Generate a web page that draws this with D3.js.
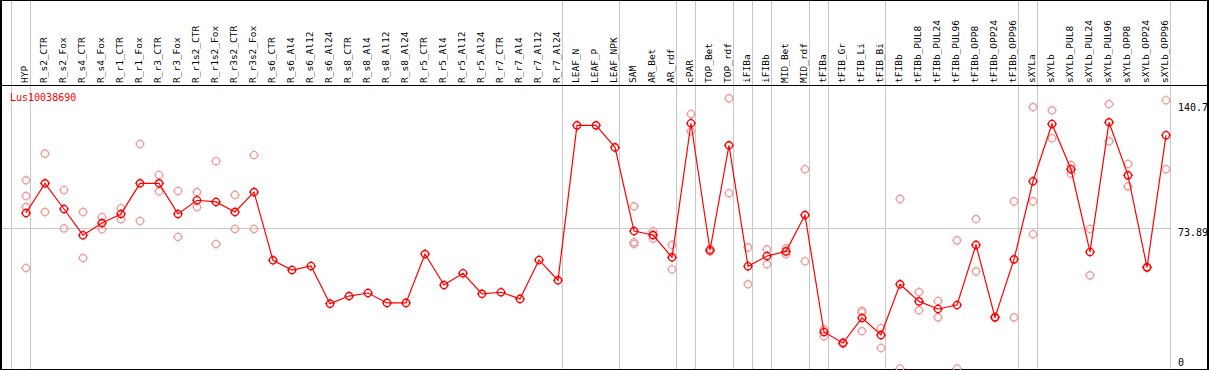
<!DOCTYPE html>
<html>
<head>
<meta charset="utf-8">
<script src="https://cdn.jsdelivr.net/npm/d3@7"></script>
<style>
  body { margin: 0; background: #fff; }
  svg { display: block; }
  text { font-family: "DejaVu Sans Mono", monospace; }
</style>
</head>
<body>
<svg id="chart"></svg>
<script>

var width = 1209,
    height = 370,
    headerY = 85.5,
    plotRight = 1170;

/** sample names, left to right **/
var samples = ["HYP", "R_s2_CTR", "R_s2_Fox", "R_s4_CTR", "R_s4_Fox", "R_r1_CTR", "R_r1_Fox",
    "R_r3_CTR", "R_r3_Fox", "R_r1s2_CTR", "R_r1s2_Fox", "R_r3s2_CTR", "R_r3s2_Fox",
    "R_s6_CTR", "R_s6_Al4", "R_s6_Al12", "R_s6_Al24", "R_s8_CTR", "R_s8_Al4", "R_s8_Al12",
    "R_s8_Al24", "R_r5_CTR", "R_r5_Al4", "R_r5_Al12", "R_r5_Al24", "R_r7_CTR", "R_r7_Al4",
    "R_r7_Al12", "R_r7_Al24", "LEAF_N", "LEAF_P", "LEAF_NPK", "SAM", "AR_Bet", "AR_rdf",
    "cPAR", "TOP_Bet", "TOP_rdf", "iFIBa", "iFIBb", "MID_Bet", "MID_rdf", "tFIBa",
    "tFIB_Gr", "tFIB_Li", "tFIB_Bi", "tFIBb", "tFIBb_PUL8", "tFIBb_PUL24", "tFIBb_PUL96",
    "tFIBb_OPP8", "tFIBb_OPP24", "tFIBb_OPP96", "sXYLa", "sXYLb", "sXYLb_PUL8",
    "sXYLb_PUL24", "sXYLb_PUL96", "sXYLb_OPP8", "sXYLb_OPP24", "sXYLb_OPP96"];

/** mean expression per sample **/
var means = [81.8, 97.4, 83.9, 70.1, 76.5, 81.3, 97.4, 97.4, 81.3, 88.5, 87.6, 82.3, 92.8,
    56.9, 51.8, 53.9, 34.1, 38.1, 39.7, 34.5, 34.5, 60.2, 43.9, 50.1, 39.3, 40.1, 36.6,
    57.1, 46.4, 127.9, 127.9, 116.3, 72.3, 70.2, 58.5, 129.0, 62.2, 117.4, 53.8, 59.2,
    61.6, 80.7, 19.2, 13.4, 26.6, 17.6, 44.3, 35.3, 31.3, 33.4, 65.0, 26.9, 57.4, 98.5,
    128.6, 104.8, 61.3, 129.5, 101.6, 53.2, 122.7];

/** individual replicates per sample (empty = single sample) **/
var replicates = [
    [99.0, 90.7, 84.9, 52.9], [113.0, 82.3], [93.9, 73.7], [82.3, 58.1], [79.7, 73.2],
    [84.3, 78.5], [118.1, 77.6], [101.8, 93.2], [93.4, 69.2], [92.8, 84.8], [109.0, 65.5],
    [91.3, 73.4], [112.3, 73.4],
    [], [], [], [], [], [], [], [], [], [], [], [], [], [], [], [],
    [], [], [],
    [85.3, 66.4, 65.5], [72.2, 70.2, 68.3], [65.0, 52.2], [133.9, 124.8], [62.9, 61.5],
    [142.1, 92.2], [63.7, 44.3], [62.7, 54.8], [63.2, 60.1], [104.8, 56.4], [20.6, 16.9],
    [13.0, 13.8], [30.4, 29.6, 19.7], [21.3, 10.8], [89.2, 0], [40.2, 30.6], [35.5, 26.9],
    [67.4, 0], [78.6, 51.1], [27.1, 26.8], [87.9, 26.9], [137.5, 87.9, 70.6],
    [135.8, 121.1], [107.0, 102.5], [73.4, 49.0], [139.1, 119.5], [107.6, 95.8],
    [53.0, 53.4], [141.1, 104.8]
];

/** group separators sit just right of these sample indices (-1 = before first) **/
var separators = [-1, 0, 28, 31, 34, 35, 37, 38, 39, 41, 42, 45, 52, 53, 60];

var yTicks = [0, 73.89, 140.7];
var geneName = "Lus10038690";


var x = d3.scalePoint()
    .domain(d3.range(samples.length))
    .range([26, 1166]);

var step = x.step();

var y = d3.scaleLinear()
    .domain([0, 140.7])
    .range([368.5, 101]);

var svg = d3.select("#chart")
    .attr("width", width)
    .attr("height", height);

svg.append("rect")
    .attr("width", width)
    .attr("height", height)
    .attr("fill", "#fff");

// vertical group lines
svg.selectAll(".sep")
    .data(separators)
    .enter().append("line")
    .attr("class", "sep")
    .attr("x1", function(d){ return Math.round(d < 0 ? x(0) - step : x(d)) + 4.5; })
    .attr("x2", function(d){ return Math.round(d < 0 ? x(0) - step : x(d)) + 4.5; })
    .attr("y1", 0)
    .attr("y2", height)
    .attr("stroke", "#c8c8c8")
    .attr("stroke-width", 1);

// mid grid line
svg.append("line")
    .attr("x1", 0)
    .attr("x2", plotRight)
    .attr("y1", Math.round(y(73.89)) + 0.5)
    .attr("y2", Math.round(y(73.89)) + 0.5)
    .attr("stroke", "#c8c8c8");

// frame
svg.append("line")
    .attr("x1", 0).attr("x2", width)
    .attr("y1", 0.5).attr("y2", 0.5)
    .attr("stroke", "#000");
svg.append("line")
    .attr("x1", 0).attr("x2", width)
    .attr("y1", headerY).attr("y2", headerY)
    .attr("stroke", "#000");
svg.append("line")
    .attr("x1", 0).attr("x2", width)
    .attr("y1", 369.5).attr("y2", 369.5)
    .attr("stroke", "#000");
svg.append("line")
    .attr("x1", 1).attr("x2", 1)
    .attr("y1", 0).attr("y2", height)
    .attr("stroke", "#000").attr("stroke-width", 2);
svg.append("line")
    .attr("x1", 1208).attr("x2", 1208)
    .attr("y1", 0).attr("y2", height)
    .attr("stroke", "#000").attr("stroke-width", 2);

// sample labels
svg.selectAll(".lbl")
    .data(samples)
    .enter().append("text")
    .attr("class", "lbl")
    .attr("transform", function(d, i){
        return "translate(" + (x(i) + 1.5) + ",83) rotate(-90)";
    })
    .attr("font-size", "9.5px")
    .attr("fill", "#000")
    .text(function(d){ return d; });

// right value labels
svg.selectAll(".ytick")
    .data(yTicks)
    .enter().append("text")
    .attr("class", "ytick")
    .attr("x", 1178)
    .attr("y", function(d){
        if (d == 0) return y(d) - 3;
        if (d == 140.7) return y(d) + 9.5;
        return y(d) + 7.5;
    })
    .attr("font-size", "10px")
    .attr("fill", "#000")
    .text(function(d){ return d; });

svg.append("text")
    .attr("x", 10)
    .attr("y", 101)
    .attr("font-size", "10px")
    .attr("fill", "#ff0000")
    .text(geneName);

// ring marker with small ticks, like the bitmap circles
function marker(sel, colour){
    sel.append("circle")
        .attr("r", 3.6)
        .attr("fill", "none")
        .attr("stroke", colour)
        .attr("stroke-width", 1.4);
    sel.append("path")
        .attr("d", "M0,-5V-3.5M0,3.5V5M-5,0H-3.5M3.5,0H5")
        .attr("stroke", colour)
        .attr("stroke-width", 1);
}

var reps = [];
replicates.forEach(function(r, i){
    r.forEach(function(v){ reps.push({i: i, v: v}); });
});

svg.selectAll(".rep")
    .data(reps)
    .enter().append("g")
    .attr("class", "rep")
    .attr("transform", function(d){
        return "translate(" + x(d.i) + "," + Math.min(y(d.v), 368.5) + ")";
    })
    .call(marker, "#f0a0a0");

var line = d3.line()
    .x(function(d, i){ return x(i); })
    .y(function(d){ return y(d); });

svg.append("path")
    .datum(means)
    .attr("d", line)
    .attr("fill", "none")
    .attr("stroke", "#ff0000")
    .attr("stroke-width", 1.2);

svg.selectAll(".mean")
    .data(means)
    .enter().append("g")
    .attr("class", "mean")
    .attr("transform", function(d, i){
        return "translate(" + x(i) + "," + y(d) + ")";
    })
    .call(marker, "#ff0000");

</script>
</body>
</html>
